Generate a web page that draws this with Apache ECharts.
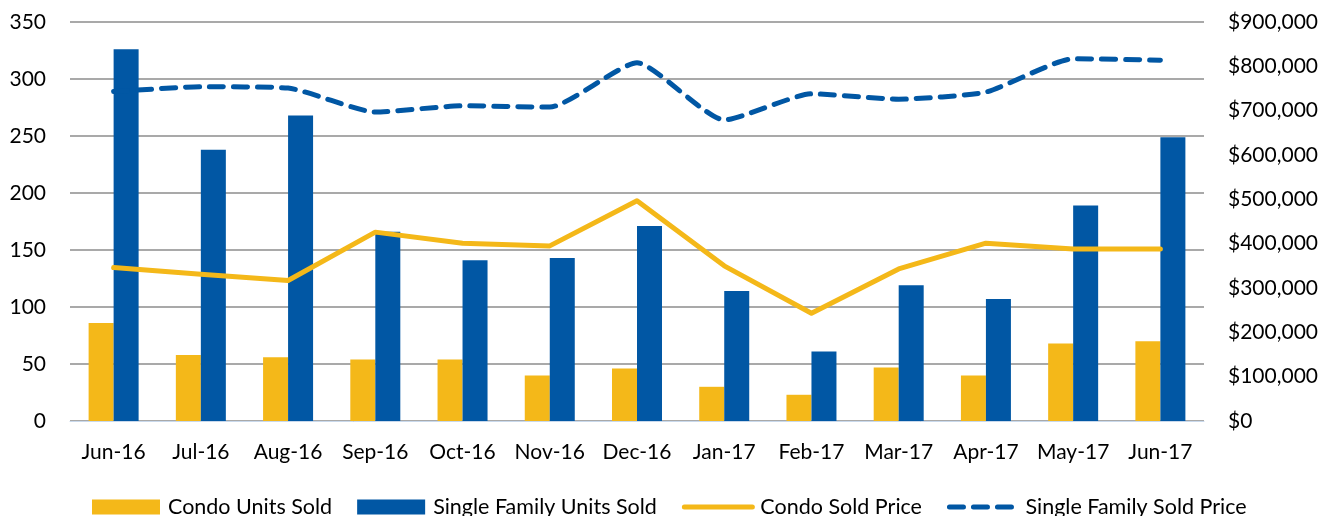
<!DOCTYPE html>
<html>
<head>
<meta charset="utf-8">
<script src="https://cdn.jsdelivr.net/npm/echarts@6/dist/echarts.min.js"></script>
<style>
  html, body { margin: 0; padding: 0; background: #fff; }
  #main { width: 1332px; height: 516px; }
</style>
</head>
<body>
<div id="main"></div>
<script>
// months on the x axis
const months = ["Jun-16", "Jul-16", "Aug-16", "Sep-16", "Oct-16", "Nov-16", "Dec-16",
  "Jan-17", "Feb-17", "Mar-17", "Apr-17", "May-17", "Jun-17"];

// units sold (left axis)
const condoUnits = [86, 58, 56, 54, 54, 40, 46, 30, 23, 47, 40, 68, 70];
const singleFamilyUnits = [326, 238, 268, 166, 141, 143, 171, 114, 61, 119, 107, 189, 249];

// sold prices (right axis)
const condoPrice = [346000, 331000, 317000, 426000, 401000, 395000, 497000,
  350000, 243000, 343000, 401000, 388000, 388000];
const singleFamilyPrice = [743000, 754000, 751000, 697000, 711000, 708000, 808000,
  679000, 738000, 726000, 742000, 817000, 814000];

const yellow = "#F4B819";
const blue = "#0157A4";
const font = "Lato";

var chart = echarts.init(document.getElementById("main"));

var option = {
  animation: false,
  textStyle: { fontFamily: font },
  grid: { left: 70, right: 128, top: 22, bottom: 95 },
  legend: {
    top: 491,
    left: 87,
    itemWidth: 68,
    itemHeight: 15,
    itemGap: 25,
    textStyle: { fontSize: 21.5, color: "#000", fontFamily: font, padding: [0, 0, 0, 3] },
    data: [
      { name: "Condo Units Sold", icon: "rect" },
      { name: "Single Family Units Sold", icon: "rect" },
      {
        name: "Condo Sold Price",
        itemStyle: { opacity: 0 },
        lineStyle: { width: 5, cap: "round" }
      },
      {
        name: "Single Family Sold Price",
        itemStyle: { opacity: 0 },
        lineStyle: { width: 5, cap: "round", type: [14, 10] }
      }
    ]
  },
  xAxis: {
    type: "category",
    data: months,
    axisLine: { show: true, lineStyle: { color: "#c9d9ec", width: 1 } },
    axisTick: { show: false },
    axisLabel: { fontSize: 21, color: "#000", margin: 21, interval: 0 }
  },
  yAxis: [
    {
      type: "value",
      min: 0, max: 350, interval: 50,
      axisLine: { show: false },
      axisTick: { show: false },
      axisLabel: { fontSize: 21, color: "#000", margin: 24 },
      splitLine: { lineStyle: { color: "#8c8c8c", width: 1.5 } }
    },
    {
      type: "value",
      min: 0, max: 900000, interval: 100000,
      axisLine: { show: false },
      axisTick: { show: false },
      splitLine: { show: false },
      axisLabel: {
        fontSize: 21, color: "#000", margin: 24,
        formatter: function (v) {
          return "$" + v.toString().replace(/\B(?=(\d{3})+(?!\d))/g, ",");
        }
      }
    }
  ],
  series: [
    {
      name: "Condo Units Sold",
      type: "bar",
      data: condoUnits,
      itemStyle: { color: yellow },
      barWidth: 25,
      barGap: "0%"
    },
    {
      name: "Single Family Units Sold",
      type: "bar",
      data: singleFamilyUnits,
      itemStyle: { color: blue },
      barWidth: 25,
      barGap: "0%"
    },
    {
      name: "Condo Sold Price",
      type: "line",
      yAxisIndex: 1,
      data: condoPrice,
      symbol: "none",
      itemStyle: { color: yellow },
      lineStyle: { color: yellow, width: 5, cap: "round", join: "round" }
    },
    {
      name: "Single Family Sold Price",
      type: "line",
      yAxisIndex: 1,
      data: singleFamilyPrice,
      symbol: "none",
      smooth: 0.18,
      itemStyle: { color: blue },
      lineStyle: { color: blue, width: 5, type: [14, 10], cap: "round", join: "round" }
    }
  ]
};

option && chart.setOption(option);
</script>
</body>
</html>
